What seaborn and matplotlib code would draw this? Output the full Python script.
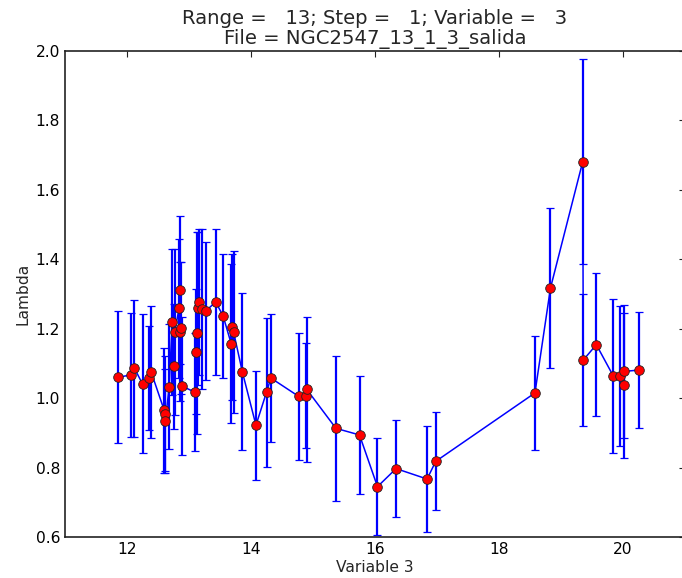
import matplotlib
matplotlib.use("Agg")
import matplotlib.pyplot as plt
import pandas as pd
import seaborn as sns

# Measured lambda per bin of variable 3, with its symmetric uncertainty
variable3 = [11.85, 12.07, 12.12, 12.25, 12.35, 12.39, 12.60, 12.61, 12.62, 12.68,
             12.73, 12.76, 12.77, 12.84, 12.85, 12.86, 12.87, 12.88, 13.10, 13.12,
             13.13, 13.14, 13.16, 13.21, 13.27, 13.43, 13.55, 13.68, 13.69, 13.72,
             13.86, 14.08, 14.25, 14.32, 14.77, 14.89, 14.90, 15.37, 15.75, 16.04,
             16.34, 16.84, 16.98, 18.58, 18.83, 19.35, 19.36, 19.57, 19.84, 19.95,
             20.01, 20.02, 20.26]
lambda_val = [1.060, 1.067, 1.086, 1.041, 1.057, 1.075, 0.965, 0.955, 0.935, 1.033,
              1.220, 1.092, 1.191, 1.259, 1.311, 1.191, 1.203, 1.035, 1.017, 1.133,
              1.188, 1.259, 1.276, 1.256, 1.251, 1.277, 1.237, 1.157, 1.204, 1.190,
              1.076, 0.922, 1.017, 1.058, 1.005, 1.007, 1.025, 0.913, 0.894, 0.745,
              0.797, 0.767, 0.818, 1.015, 1.317, 1.681, 1.110, 1.154, 1.065, 1.063,
              1.037, 1.077, 1.081]
lambda_err = [0.190, 0.178, 0.197, 0.200, 0.150, 0.190, 0.180, 0.165, 0.150, 0.180,
              0.210, 0.180, 0.240, 0.200, 0.213, 0.200, 0.190, 0.200, 0.170, 0.180,
              0.290, 0.220, 0.210, 0.230, 0.200, 0.210, 0.178, 0.230, 0.210, 0.234,
              0.226, 0.157, 0.215, 0.185, 0.183, 0.152, 0.210, 0.209, 0.169, 0.140,
              0.140, 0.152, 0.141, 0.164, 0.230, 0.296, 0.190, 0.206, 0.222, 0.202,
              0.209, 0.191, 0.167]

title_text = "Range =   13; Step =   1; Variable =   3\nFile = NGC2547_13_1_3_salida"
x_label = "Variable 3"
y_label = "Lambda"
x_ticks = [12, 14, 16, 18, 20]
y_ticks = [0.6, 0.8, 1.0, 1.2, 1.4, 1.6, 1.8, 2.0]

sns.set_style("white")
plt.rcParams["font.family"] = ["DejaVu Sans"]

df = pd.DataFrame({"x": variable3, "y": lambda_val, "err": lambda_err})

fig = plt.figure(figsize=(6.82, 5.78), dpi=100)
ax = fig.add_axes([65 / 682, 41 / 578, 620 / 682, 486 / 578])

ax.errorbar(df["x"], df["y"], yerr=df["err"], fmt="none", ecolor="#0000ff",
            elinewidth=1.6, capsize=2.8, capthick=0.9, zorder=2)
sns.lineplot(data=df, x="x", y="y", estimator=None, sort=False, color="#0000ff",
             linewidth=1.1, ax=ax, zorder=3)
sns.scatterplot(data=df, x="x", y="y", color="#ff0000", edgecolor="#222222",
                linewidth=0.6, s=48, ax=ax, zorder=4)

ax.set_xlim(11, 21)
ax.set_ylim(0.6, 2.0)
ax.set_xticks(x_ticks)
ax.set_yticks(y_ticks)
ax.set_yticklabels([f"{v:.1f}" for v in y_ticks])
ax.tick_params(direction="in", top=True, right=True, length=4, width=0.8,
               labelsize=11.2, colors="#222222", labelcolor="black")
for sp in ax.spines.values():
    sp.set_color("#222222")
    sp.set_linewidth(1.2)

ax.set_title(title_text, fontsize=14.1, pad=5, linespacing=1.05)
ax.set_xlabel(x_label, fontsize=11.2, labelpad=2)
ax.set_ylabel(y_label, fontsize=11.2, labelpad=4)

fig.savefig("out.png", dpi=100, facecolor="white")
